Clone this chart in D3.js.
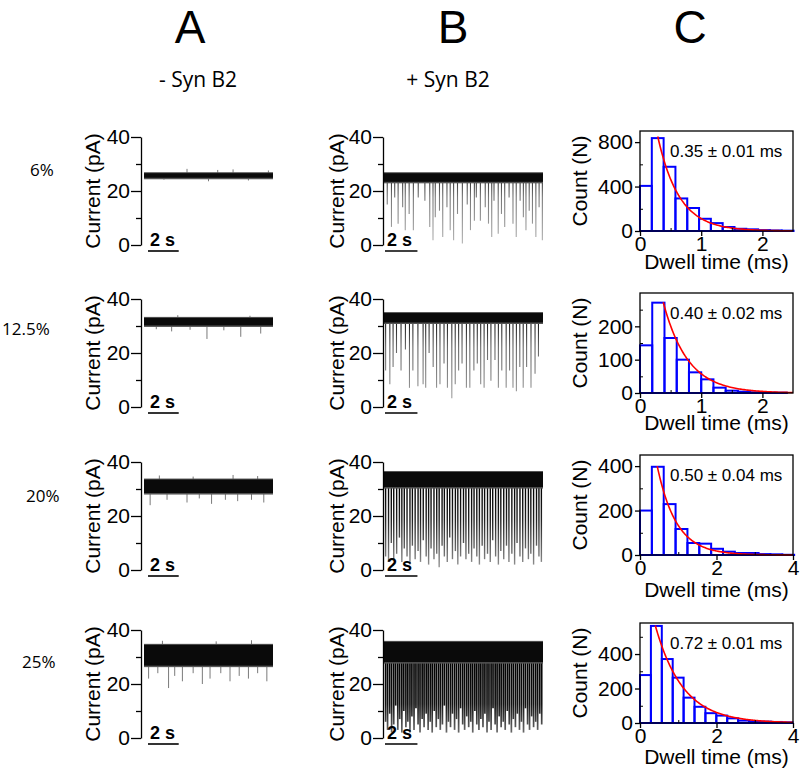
<!DOCTYPE html>
<html><head><meta charset="utf-8">
<script src="https://cdn.jsdelivr.net/npm/d3@7"></script>
<style>body{margin:0;background:#fff}svg{display:block}</style>
</head><body>
<svg id="fig" width="800" height="771"></svg>
<script>
// ---------------- DATA ----------------
const panelLetters = ["A", "B", "C"];
const conditionLabels = ["- Syn B2", "+ Syn B2"];
const concentrations = ["6%", "12.5%", "20%", "25%"];
const currentTicks = [0, 20, 40];
const currentMinorTicks = [10, 30];
const scaleBarSeconds = 2;
const scaleBarLabel = "2 s";
const recordDurationA = 8.4;   // s shown in column A
const recordDurationB = 9.8;   // s shown in column B

// open-channel current band [low, high] (pA), without Syn B2
const bandMinusSyn = [[24.9, 26.6], [30.2, 33.0], [28.5, 33.5], [26.8, 34.5]];
// excursions [time s, extreme current pA], without Syn B2
const eventsMinusSyn6 = [[2.8, 28.2], [4.8, 27.8], [5.8, 28.0], [8.1, 27.6], [4.2, 23.6], [6.8, 23.9], [1.3, 24.2]];
const eventsMinusSyn12 = [[1.8, 28.0], [4.1, 25.2], [6.3, 26.0], [7.6, 27.2], [3.0, 28.6], [5.2, 28.4], [0.8, 28.8], [2.2, 34.0], [6.9, 33.8]];
const eventsMinusSyn20 = [[0.4, 24.0], [1.5, 26.0], [2.8, 25.0], [3.6, 26.5], [4.4, 24.5], [5.3, 26.0], [6.1, 25.5], [7.0, 26.0], [7.8, 25.0], [1.0, 35.0], [3.2, 34.6], [5.8, 35.2], [7.4, 34.8]];
const eventsMinusSyn25 = [[0.3, 22], [0.9, 24], [1.6, 18.5], [2.0, 23], [2.5, 21], [3.2, 24], [3.8, 20], [4.3, 22], [5.0, 24], [5.6, 21], [6.2, 23], [6.8, 22], [7.4, 24], [8.0, 21], [1.2, 36], [4.7, 35.8], [7.0, 36.2]];

// with Syn B2
const bandPlusSyn = [[23.4, 26.6], [31.3, 34.8], [30.7, 36.3], [28.1, 35.6]];
const eventsPlusSyn6 = [[0.20, 15], [0.46, 6.7], [0.66, 17.6], [0.87, 7.9], [1.15, 14], [1.31, 5.5], [1.55, 11.5], [1.81, 5.5], [2.11, 17.6], [2.52, 16.4], [2.82, 6.7], [3.02, 1.8], [3.16, 10.3], [3.42, 12.7], [3.62, 3], [3.88, 14], [4.08, 5.5], [4.29, 1.8], [4.53, 11.5], [4.83, 0.6], [5.13, 15], [5.33, 5.5], [5.57, 9], [5.69, 17.6], [5.94, 9], [6.24, 14], [6.44, 7.9], [6.64, 3], [6.78, 16.4], [7.04, 4.2], [7.24, 11.5], [7.44, 6.7], [7.71, 17.6], [7.95, 7.9], [8.15, 3], [8.39, 16.4], [8.59, 10.3], [8.75, 5.5], [8.95, 12.7], [9.15, 7.9], [9.36, 3], [9.56, 14], [9.76, 1.8]];
const eventsPlusSyn12 = [[0.10, 13.5], [0.36, 8.4], [0.56, 14.8], [0.77, 20], [1.05, 13.5], [1.32, 21.3], [1.57, 7.1], [1.78, 13.5], [2.09, 7.7], [2.41, 8.4], [2.57, 7.1], [2.78, 20], [3.03, 14.8], [3.24, 7.1], [3.45, 8.4], [3.70, 16.1], [3.91, 7.1], [4.18, 3.2], [4.39, 8.4], [4.60, 13.5], [4.81, 16.1], [5.08, 7.1], [5.29, 7.1], [5.54, 13.5], [5.75, 16.1], [5.96, 8.4], [6.17, 7.1], [6.38, 17.4], [6.59, 9.7], [6.84, 17.4], [7.05, 7.1], [7.26, 13.5], [7.53, 7.1], [7.74, 13.5], [7.95, 7.1], [8.16, 5.8], [8.37, 14.8], [8.58, 7.1], [8.79, 14.8], [9.06, 7.1], [9.31, 12.3], [9.52, 18.7]];
const eventsPlusSyn20 = [[0.10, 5], [0.28, 3], [0.45, 10], [0.60, 4], [0.78, 6], [0.95, 12], [1.10, 3], [1.25, 8], [1.42, 5], [1.60, 2], [1.75, 9], [1.92, 4], [2.10, 7], [2.25, 3], [2.42, 11], [2.60, 5], [2.75, 2], [2.90, 8], [3.08, 4], [3.25, 6], [3.40, 1], [3.58, 9], [3.72, 5], [3.90, 3], [4.05, 12], [4.22, 4], [4.40, 7], [4.55, 2], [4.72, 5], [4.90, 10], [5.05, 4], [5.22, 6], [5.40, 3], [5.55, 8], [5.72, 5], [5.88, 2], [6.05, 9], [6.20, 4], [6.38, 6], [6.55, 3], [6.70, 11], [6.88, 5], [7.05, 2], [7.20, 7], [7.38, 4], [7.55, 9], [7.70, 3], [7.88, 6], [8.05, 2], [8.20, 10], [8.38, 5], [8.55, 3], [8.72, 8], [8.90, 4], [9.05, 6], [9.22, 2], [9.40, 9], [9.55, 5], [9.70, 3]];
const eventsPlusSyn25 = [[0.10, 6], [0.22, 3], [0.35, 9], [0.47, 2], [0.60, 5], [0.72, 12], [0.85, 3], [0.97, 7], [1.10, 2], [1.22, 10], [1.35, 4], [1.47, 6], [1.60, 2], [1.72, 8], [1.85, 3], [1.97, 11], [2.10, 5], [2.22, 2], [2.35, 7], [2.47, 4], [2.60, 9], [2.72, 3], [2.85, 6], [2.97, 2], [3.10, 10], [3.22, 4], [3.35, 7], [3.47, 3], [3.60, 5], [3.72, 12], [3.85, 2], [3.97, 6], [4.10, 4], [4.22, 9], [4.35, 3], [4.47, 7], [4.60, 2], [4.72, 11], [4.85, 5], [4.97, 3], [5.10, 8], [5.22, 4], [5.35, 6], [5.47, 2], [5.60, 10], [5.72, 5], [5.85, 3], [5.97, 7], [6.10, 4], [6.22, 9], [6.35, 2], [6.47, 6], [6.60, 3], [6.72, 11], [6.85, 5], [6.97, 2], [7.10, 8], [7.22, 4], [7.35, 6], [7.47, 3], [7.60, 10], [7.72, 5], [7.85, 2], [7.97, 7], [8.10, 4], [8.22, 9], [8.35, 3], [8.47, 6], [8.60, 2], [8.72, 11], [8.85, 5], [8.97, 3], [9.10, 8], [9.22, 4], [9.35, 6], [9.47, 3], [9.60, 9], [9.72, 5]];

// dwell-time histograms
const binWidths = [0.193, 0.2, 0.31, 0.285];
const counts6 = [406, 836, 578, 293, 207, 110, 71, 36, 20, 15, 8, 5, 3];
const counts12 = [143, 271, 165, 100, 62, 41, 16, 7, 4, 2, 1, 1];
const counts20 = [200, 397, 229, 117, 54, 51, 28, 15, 9, 9, 4, 3, 1];
const counts25 = [278, 563, 371, 263, 147, 94, 57, 43, 27, 14, 10, 8, 6, 4];
const dwellTau = [0.35, 0.40, 0.50, 0.72];
const dwellTauErr = [0.01, 0.02, 0.04, 0.01];
const fitStart = [0.29, 0.38, 0.45, 0.40];
const fitAmplitude = [850, 272, 400, 565];
const dwellXMax = [2.5, 2.5, 4, 4];
const countYMax = [900, 300, 450, 580];
const countTicks = [[0, 400, 800], [0, 100, 200], [0, 200, 400], [0, 200, 400]];
const countMinorTicks = [[200, 600], [50, 150, 250], [100, 300], [100, 300, 500]];
const dwellTicks = [[0, 1, 2], [0, 1, 2], [0, 2, 4], [0, 2, 4]];
const dwellMinorTicks = [[0.5, 1.5], [0.5, 1.5], [1, 3], [1, 3]];

// ---------------- DRAWING ----------------
const svg = d3.select("#fig");
const ARIAL = "'Liberation Sans', Arial, sans-serif";
const SANS2 = "'Open Sans', sans-serif";

const rowTop = [137, 299, 462, 630];
const traceH = 108;
const colA = {axisX: 141, x0: 144, x1: 273, dur: recordDurationA, labelX: 93, barX: 148};
const colB = {axisX: 383, x0: 384, x1: 543, dur: recordDurationB, labelX: 337, barX: 385};
const eventsMinus = [eventsMinusSyn6, eventsMinusSyn12, eventsMinusSyn20, eventsMinusSyn25];
const eventsPlus = [eventsPlusSyn6, eventsPlusSyn12, eventsPlusSyn20, eventsPlusSyn25];
const countsAll = [counts6, counts12, counts20, counts25];
const gradStops = [
  [[0, "#3a3a3a"], [0.25, "#777"], [1, "#b4b4b4"]],
  [[0, "#1a1a1a"], [0.3, "#666"], [1, "#a8a8a8"]],
  [[0, "#000"], [0.4, "#222"], [1, "#999"]],
  [[0, "#000"], [0.55, "#111"], [1, "#7a7a7a"]]
];
const spikeWidth = [1.1, 1.1, 1.4, 1.7];

const defs = svg.append("defs");

// headers
const headerX = [190, 453, 690];
panelLetters.forEach((L, i) => {
  svg.append("text").attr("x", headerX[i]).attr("y", 43).attr("text-anchor", "middle")
    .style("font-family", ARIAL).style("font-size", "46px").text(L);
});
[198, 448].forEach((cx, i) => {
  svg.append("text").attr("x", cx).attr("y", 87).attr("text-anchor", "middle")
    .style("font-family", SANS2).style("font-size", "21px").text(conditionLabels[i]);
});
const concX = [30, 2, 26, 22];
const concY = [176, 335, 502, 668];
concentrations.forEach((c, i) => {
  svg.append("text").attr("x", concX[i]).attr("y", concY[i]).attr("text-anchor", "start")
    .style("font-family", SANS2).style("font-size", "17px").text(c);
});

function tracePanel(col, r, band, events, plus) {
  const y = d3.scaleLinear().domain([0, 40]).range([rowTop[r] + traceH, rowTop[r]]);
  const x = d3.scaleLinear().domain([0, col.dur]).range([col.x0, col.x1]);
  const g = svg.append("g");
  let stroke = "#7a7a7a";
  if (plus) {
    const id = "grad" + r;
    const lg = defs.append("linearGradient").attr("id", id).attr("gradientUnits", "userSpaceOnUse")
      .attr("x1", 0).attr("x2", 0).attr("y1", y(band[0])).attr("y2", y(0));
    gradStops[r].forEach(s => lg.append("stop").attr("offset", s[0]).attr("stop-color", s[1]));
    stroke = `url(#${id})`;
  }
  g.selectAll("line.ev").data(events).join("line").attr("class", "ev")
    .attr("x1", d => x(d[0])).attr("x2", d => x(d[0]))
    .attr("y1", d => d[1] < band[0] ? y(band[0]) : y(band[1]))
    .attr("y2", d => y(d[1]))
    .attr("stroke", stroke).attr("stroke-width", plus ? spikeWidth[r] : 1);
  // soft fringe + dense band
  g.append("rect").attr("x", x(0)).attr("width", x(col.dur) - x(0))
    .attr("y", y(band[1]) - 1).attr("height", y(band[0]) - y(band[1]) + 2.5).attr("fill", "#555");
  g.append("rect").attr("x", x(0)).attr("width", x(col.dur) - x(0))
    .attr("y", y(band[1])).attr("height", y(band[0]) - y(band[1])).attr("fill", "#0a0a0a");

  // y axis
  const ax = svg.append("g").attr("transform", `translate(${col.axisX},0)`)
    .call(d3.axisLeft(y).tickValues(currentTicks).tickSize(10).tickPadding(1).tickSizeOuter(0));
  ax.select(".domain").attr("stroke-width", 1.3);
  ax.selectAll(".tick line").attr("stroke-width", 1.3);
  ax.selectAll("text").style("font-family", ARIAL).style("font-size", "21px");
  const axm = svg.append("g").attr("transform", `translate(${col.axisX},0)`)
    .call(d3.axisLeft(y).tickValues(currentMinorTicks).tickSize(5).tickFormat(""));
  axm.select(".domain").remove();
  axm.selectAll(".tick line").attr("stroke-width", 1.3);
  svg.append("text").attr("transform", `translate(${col.labelX},${(y(0) + y(40)) / 2}) rotate(-90)`)
    .attr("text-anchor", "middle").attr("dy", "0.35em")
    .style("font-family", ARIAL).style("font-size", "21px").text("Current (pA)");
  // scale bar
  const bx0 = col.barX, bx1 = col.barX + (x(scaleBarSeconds) - x(0));
  svg.append("line").attr("x1", bx0).attr("x2", bx1).attr("y1", y(0) + 6).attr("y2", y(0) + 6)
    .attr("stroke", "#000").attr("stroke-width", 1.6);
  svg.append("text").attr("x", bx0 + 2).attr("y", y(0) + 1)
    .style("font-family", ARIAL).style("font-weight", "bold").style("font-size", "18px").text(scaleBarLabel);
}

for (let r = 0; r < 4; r++) {
  tracePanel(colA, r, bandMinusSyn[r], eventsMinus[r], false);
  tracePanel(colB, r, bandPlusSyn[r], eventsPlus[r], true);
}

// histograms
const histTop = [131, 293, 455, 623];
const histH = 100, histL = 640, histR = 793;
const titleOff = [38, 37, 42, 41];
for (let r = 0; r < 4; r++) {
  const x = d3.scaleLinear().domain([0, dwellXMax[r]]).range([histL, histR]);
  const y = d3.scaleLinear().domain([0, countYMax[r]]).range([histTop[r] + histH, histTop[r]]);
  const w = binWidths[r];
  const g = svg.append("g");
  g.selectAll("rect.bar").data(countsAll[r]).join("rect").attr("class", "bar")
    .attr("x", (d, i) => x(i * w)).attr("width", x(w) - x(0))
    .attr("y", d => y(d)).attr("height", d => y(0) - y(d))
    .attr("fill", "none").attr("stroke", "#0000ff").attr("stroke-width", 2);
  const pts = d3.range(fitStart[r], dwellXMax[r] + 0.001, 0.02)
    .map(t => [t, fitAmplitude[r] * Math.exp(-(t - fitStart[r]) / dwellTau[r])]);
  g.append("path").datum(pts)
    .attr("d", d3.line().x(d => x(d[0])).y(d => y(d[1])))
    .attr("fill", "none").attr("stroke", "#ff0000").attr("stroke-width", 1.6);
  // frame
  svg.append("rect").attr("x", histL).attr("y", histTop[r]).attr("width", histR - histL).attr("height", histH)
    .attr("fill", "none").attr("stroke", "#000").attr("stroke-width", 1.3);
  const axb = svg.append("g").attr("transform", `translate(0,${histTop[r] + histH})`)
    .call(d3.axisBottom(x).tickValues(dwellTicks[r]).tickFormat(d3.format("d")).tickSize(5).tickPadding(0).tickSizeOuter(0));
  axb.select(".domain").remove();
  axb.selectAll(".tick line").attr("stroke-width", 1.3);
  axb.selectAll("text").style("font-family", ARIAL).style("font-size", "21px");
  const axbm = svg.append("g").attr("transform", `translate(0,${histTop[r] + histH})`)
    .call(d3.axisBottom(x).tickValues(dwellMinorTicks[r]).tickSize(-3).tickFormat(""));
  axbm.select(".domain").remove();
  const axl = svg.append("g").attr("transform", `translate(${histL},0)`)
    .call(d3.axisLeft(y).tickValues(countTicks[r]).tickFormat(d3.format("d")).tickSize(5).tickPadding(2).tickSizeOuter(0));
  axl.select(".domain").remove();
  axl.selectAll(".tick line").attr("stroke-width", 1.3);
  axl.selectAll("text").style("font-family", ARIAL).style("font-size", "21px");
  const axlm = svg.append("g").attr("transform", `translate(${histL},0)`)
    .call(d3.axisLeft(y).tickValues(countMinorTicks[r]).tickSize(-3).tickFormat(""));
  axlm.select(".domain").remove();

  svg.append("text").attr("transform", `translate(580,${histTop[r] + histH / 2}) rotate(-90)`)
    .attr("text-anchor", "middle").attr("dy", "0.35em")
    .style("font-family", ARIAL).style("font-size", "21px").text("Count (N)");
  svg.append("text").attr("x", (histL + histR) / 2).attr("y", histTop[r] + histH + titleOff[r])
    .attr("text-anchor", "middle").style("font-family", ARIAL).style("font-size", "21px").text("Dwell time (ms)");
  svg.append("text").attr("x", histL + 30).attr("y", histTop[r] + 26)
    .style("font-family", ARIAL).style("font-size", "17px")
    .text(`${dwellTau[r].toFixed(2)} ± ${dwellTauErr[r].toFixed(2)} ms`);
}
</script>
</body></html>
